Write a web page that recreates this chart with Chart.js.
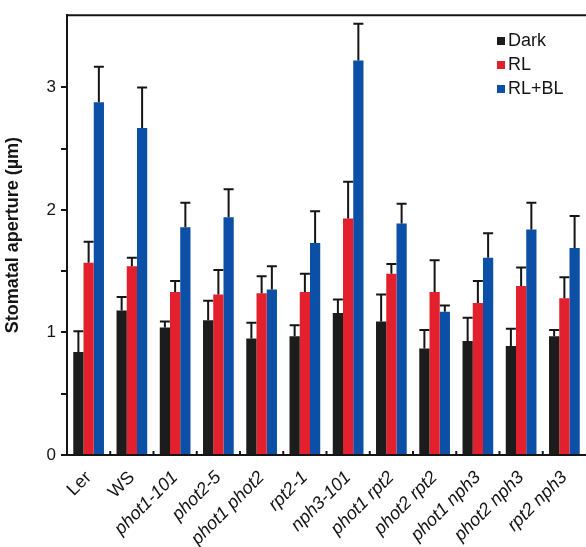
<!DOCTYPE html>
<html>
<head>
<meta charset="utf-8">
<script src="https://cdn.jsdelivr.net/npm/chart.js@4.4.0/dist/chart.umd.min.js"></script>
<style>
  html, body { margin: 0; padding: 0; background: #fff; }
  #wrap { width: 586px; height: 547px; position: relative; }
</style>
</head>
<body>
<div id="wrap"><canvas id="c"></canvas></div>
<script>
// 유전자형 (x축 라벨)
const genotypes = ['Ler', 'WS', 'phot1-101', 'phot2-5', 'phot1 phot2', 'rpt2-1', 'nph3-101',
  'phot1 rpt2', 'phot2 rpt2', 'phot1 nph3', 'phot2 nph3', 'rpt2 nph3'];
const italicFrom = 2; // 이 인덱스부터 이탤릭

// 기공 개도 평균값 (µm)
const darkVals = [0.84, 1.18, 1.04, 1.10, 0.95, 0.97, 1.16, 1.09, 0.87, 0.93, 0.89, 0.97];
const rlVals   = [1.57, 1.54, 1.33, 1.31, 1.32, 1.33, 1.93, 1.48, 1.33, 1.24, 1.38, 1.28];
const rlblVals = [2.88, 2.67, 1.86, 1.94, 1.35, 1.73, 3.22, 1.89, 1.17, 1.61, 1.84, 1.69];

// 오차 막대 (위쪽만)
const darkErr = [0.17, 0.11, 0.05, 0.16, 0.13, 0.09, 0.11, 0.22, 0.15, 0.19, 0.14, 0.05];
const rlErr   = [0.17, 0.07, 0.09, 0.20, 0.14, 0.15, 0.30, 0.08, 0.26, 0.18, 0.15, 0.17];
const rlblErr = [0.29, 0.33, 0.20, 0.23, 0.19, 0.26, 0.30, 0.16, 0.05, 0.20, 0.22, 0.26];

const yTicks = [0, 1, 2, 3];

const FONT = "'Liberation Sans', Arial, sans-serif";
const INK = '#151515';

// 오차 막대 그리기
const errorBars = {
  id: 'errorBars',
  afterDatasetsDraw(chart) {
    const ctx = chart.ctx;
    const y = chart.scales.y;
    ctx.save();
    ctx.strokeStyle = INK;
    ctx.lineWidth = 2;
    chart.data.datasets.forEach((ds, i) => {
      const meta = chart.getDatasetMeta(i);
      meta.data.forEach((bar, j) => {
        const top = y.getPixelForValue(ds.data[j] + ds.errors[j]);
        ctx.beginPath();
        ctx.moveTo(bar.x, bar.y);
        ctx.lineTo(bar.x, top);
        ctx.moveTo(bar.x - 5, top);
        ctx.lineTo(bar.x + 5, top);
        ctx.stroke();
      });
    });
    ctx.restore();
  }
};

// 위쪽 테두리, x축 눈금, 범례
const frameAndLegend = {
  id: 'frameAndLegend',
  afterDraw(chart) {
    const ctx = chart.ctx;
    const a = chart.chartArea;
    const x = chart.scales.x;
    ctx.save();
    ctx.strokeStyle = INK;
    ctx.lineWidth = 2;
    ctx.beginPath();
    ctx.moveTo(a.left - 1, a.top);
    ctx.lineTo(a.right, a.top);
    ctx.stroke();
    // 그룹 경계 눈금 (안쪽)
    for (let i = 1; i < genotypes.length; i++) {
      const px = (x.getPixelForValue(i - 1) + x.getPixelForValue(i)) / 2;
      ctx.beginPath();
      ctx.moveTo(px, a.bottom);
      ctx.lineTo(px, a.bottom - 4);
      ctx.stroke();
    }
    // 범례
    ctx.font = '18px ' + FONT;
    ctx.textBaseline = 'middle';
    chart.data.datasets.forEach((ds, i) => {
      const ly = 41 + i * 24;
      ctx.fillStyle = ds.backgroundColor;
      ctx.fillRect(497, ly - 4, 8, 8);
      ctx.fillStyle = INK;
      ctx.fillText(ds.label, 508, ly);
    });
    ctx.restore();
  }
};

new Chart(document.getElementById('c'), {
  type: 'bar',
  data: {
    labels: genotypes,
    datasets: [
      { label: 'Dark', data: darkVals, errors: darkErr, backgroundColor: '#1c1c1c' },
      { label: 'RL', data: rlVals, errors: rlErr, backgroundColor: '#e3202d' },
      { label: 'RL+BL', data: rlblVals, errors: rlblErr, backgroundColor: '#0b4fa6' }
    ]
  },
  options: {
    responsive: true,
    maintainAspectRatio: false,
    animation: false,
    layout: { padding: { top: 15, right: 0, left: 0, bottom: 0 } },
    datasets: { bar: { categoryPercentage: 0.71, barPercentage: 1.0 } },
    plugins: {
      legend: { display: false },
      tooltip: { enabled: false }
    },
    scales: {
      x: {
        grid: { display: false },
        border: { color: INK, width: 2 },
        ticks: {
          color: INK,
          minRotation: 45,
          maxRotation: 45,
          padding: 4,
          font: (c) => ({ family: FONT, size: 18, style: c.index >= italicFrom ? 'italic' : 'normal' })
        },
        afterFit(scale) { scale.height = 92; }
      },
      y: {
        min: 0,
        max: 3.59,
        afterBuildTicks(scale) {
          scale.ticks = scale.ticks.filter(t => Math.abs(t.value * 2 - Math.round(t.value * 2)) < 1e-6);
        },
        grid: { drawOnChartArea: false, color: INK, lineWidth: 2, tickLength: 6 },
        border: { color: INK, width: 2 },
        ticks: {
          stepSize: 0.5,
          color: INK,
          padding: 5,
          font: { family: FONT, size: 17 },
          callback: (v) => yTicks.includes(v) ? String(v) : ''
        },
        title: {
          display: true,
          text: 'Stomatal aperture (µm)',
          color: INK,
          font: { family: FONT, size: 18, weight: 'bold' },
          padding: { top: 2, bottom: 2 }
        },
        afterFit(scale) { scale.width = 67; }
      }
    }
  },
  plugins: [errorBars, frameAndLegend]
});
</script>
</body>
</html>
